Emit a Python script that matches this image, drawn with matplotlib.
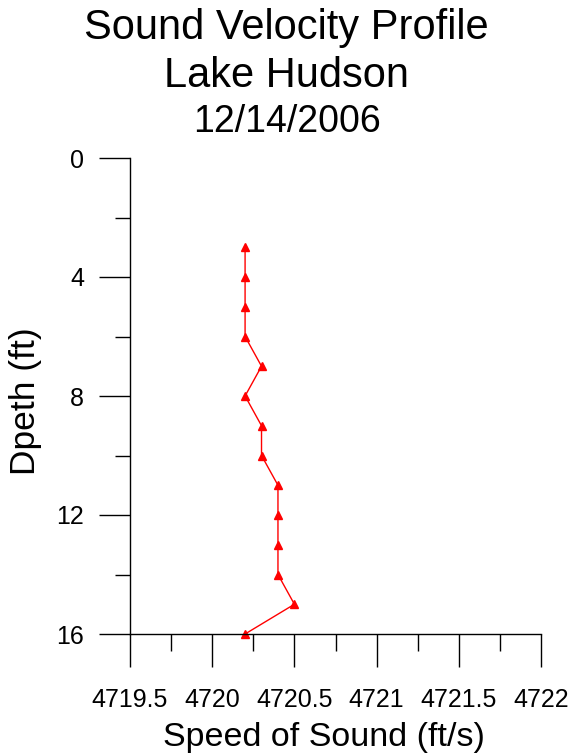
import matplotlib
matplotlib.use("Agg")
import matplotlib.pyplot as plt
from matplotlib.ticker import MultipleLocator

plt.rcParams['font.family'] = ['Liberation Sans', 'DejaVu Sans']

# data
depth = [3, 4, 5, 6, 7, 8, 9, 10, 11, 12, 13, 14, 15, 16]
speed = [4720.2, 4720.2, 4720.2, 4720.2, 4720.3, 4720.2, 4720.3,
         4720.3, 4720.4, 4720.4, 4720.4, 4720.4, 4720.5, 4720.2]
x_ticks = [4719.5, 4720, 4720.5, 4721, 4721.5, 4722]
x_labels = ['4719.5', '4720', '4720.5', '4721', '4721.5', '4722']
y_ticks = [0, 4, 8, 12, 16]

W, H = 573, 755
fig = plt.figure(figsize=(W / 100, H / 100), dpi=100)
ax = fig.add_axes([130 / W, 1 - 634 / H, 411 / W, 476 / H])

ax.plot(speed, depth, color='red', linewidth=1, marker='^', markersize=6,
        markeredgecolor='red', markerfacecolor='red', clip_on=False)

ax.set_xlim(4719.5, 4722)
ax.set_ylim(16, 0)
ax.set_xticks(x_ticks)
ax.set_xticklabels(x_labels)
ax.set_yticks(y_ticks)
ax.xaxis.set_minor_locator(MultipleLocator(0.25))
ax.yaxis.set_minor_locator(MultipleLocator(2))

for s in ['top', 'right']:
    ax.spines[s].set_visible(False)
for s in ['left', 'bottom']:
    ax.spines[s].set_linewidth(1)

ax.tick_params(axis='x', which='major', length=24, width=1, labelsize=18, pad=15)
ax.tick_params(axis='x', which='minor', length=12, width=1)
ax.tick_params(axis='y', which='major', length=22, width=1, labelsize=18, pad=11)
ax.tick_params(axis='y', which='minor', length=11, width=1)

# axis titles placed in figure pixels to match the reference
fig.text(324 / W, 1 - 746 / H, 'Speed of Sound (ft/s)', ha='center', va='baseline', fontsize=24.5)
fig.text(26 / W, 1 - 401 / H, 'Dpeth (ft)', ha='center', va='center', rotation=90, fontsize=25.5)

fig.text(0.5, 1 - 39 / H, 'Sound Velocity Profile', ha='center', va='baseline', fontsize=30)
fig.text(0.5, 1 - 87 / H, 'Lake Hudson', ha='center', va='baseline', fontsize=30)
fig.text(0.5, 1 - 132 / H, '12/14/2006', ha='center', va='baseline', fontsize=27)

fig.savefig('out.png', dpi=100)
